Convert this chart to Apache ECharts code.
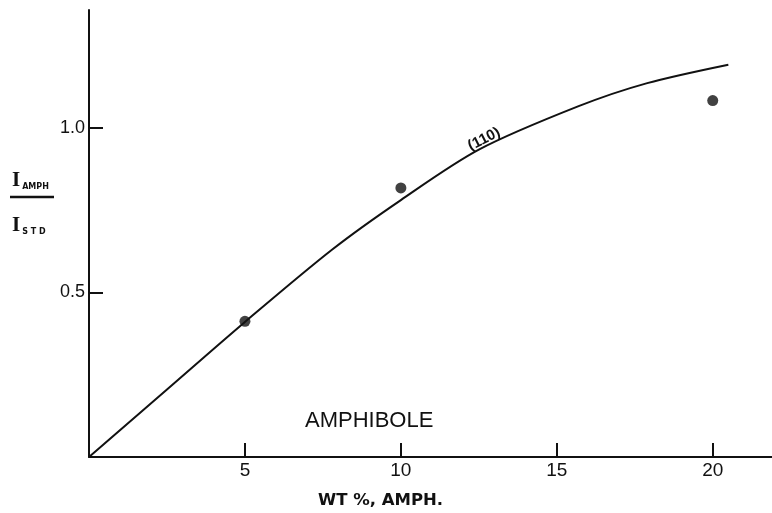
<!DOCTYPE html>
<html><head><meta charset="utf-8">
<script src="https://cdn.jsdelivr.net/npm/echarts@6/dist/echarts.min.js"></script>
<style>html,body{margin:0;padding:0;background:#fff}#c{width:772px;height:513px}</style>
</head><body><div id="c"></div>
<script>
// Fitted curve (110)
const curveX = [0, 2.5, 5, 7.8, 10, 12.5, 15.7, 17.9, 20.5];
const curveY = [0, 0.205, 0.41, 0.63, 0.78, 0.933, 1.065, 1.135, 1.191];
// Measured points
const pointX = [5, 10, 20];
const pointY = [0.412, 0.817, 1.082];
const xTicks = [5, 10, 15, 20];
const yTicks = [0.5, 1.0];
const yTickLabels = ['0.5', '1.0'];

const ink = '#111';
const font = '"Liberation Sans", "DejaVu Sans", sans-serif';
const wide = '"DejaVu Sans", sans-serif';
const serif = '"Liberation Serif", "DejaVu Serif", serif';
const chart = echarts.init(document.getElementById('c'), null, {renderer: 'canvas'});
chart.setOption({
  backgroundColor: '#fff',
  animation: false,
  grid: {left: 89, right: 0, top: 10, bottom: 56, containLabel: false, outerBoundsMode: 'none'},
  xAxis: {
    type: 'value', min: 0, max: 21.9, interval: 5,
    name: 'WT %, AMPH.', nameLocation: 'middle', nameGap: 35,
    nameTextStyle: {color: ink, fontSize: 16.5, fontFamily: wide, fontWeight: 'bold', padding: [0, 100, 0, 0]},
    splitLine: {show: false},
    axisLine: {lineStyle: {color: ink, width: 2}},
    axisTick: {inside: true, length: 14, lineStyle: {color: ink, width: 2}, customValues: xTicks},
    axisLabel: {color: ink, fontSize: 19, fontFamily: font, margin: 4, customValues: xTicks}
  },
  yAxis: {
    type: 'value', min: 0, max: 1.357, interval: 0.5,
    splitLine: {show: false},
    axisLine: {lineStyle: {color: ink, width: 2}},
    axisTick: {inside: true, length: 14, lineStyle: {color: ink, width: 2}, customValues: yTicks},
    axisLabel: {color: ink, fontSize: 18, fontFamily: font, margin: 4, customValues: yTicks,
      formatter: v => { const i = yTicks.findIndex(t => Math.abs(t - v) < 1e-6); return i >= 0 ? yTickLabels[i] : ''; }}
  },
  series: [
    {
      type: 'line', smooth: 0.3, showSymbol: false, symbol: 'none',
      data: curveX.map((x, i) => [x, curveY[i]]),
      lineStyle: {color: ink, width: 2},
      markPoint: {
        symbol: 'circle', symbolSize: 0,
        data: [{coord: [12.8, 0.94]}],
        label: {show: true, formatter: '(110)', rotate: 27, color: ink, fontSize: 15, fontFamily: font, fontWeight: 'bold', offset: [0, -9]}
      }
    },
    {
      type: 'scatter', symbol: 'circle', symbolSize: 11,
      data: pointX.map((x, i) => [x, pointY[i]]),
      itemStyle: {color: ink}
    }
  ],
  graphic: [
    {type: 'text', left: 305, top: 410, style: {text: 'AMPHIBOLE', fill: ink, font: '22px ' + font}},
    {type: 'text', left: 12, top: 170, style: {
      text: '{i|I}{s|AMPH}', fill: ink,
      rich: {i: {fontSize: 21, fontFamily: serif, fontWeight: 'bold', fill: ink}, s: {fontSize: 8, fontFamily: wide, fontWeight: 'bold', fill: ink, verticalAlign: 'bottom', padding: [9, 0, 0, 2]}}
    }},
    {type: 'line', shape: {x1: 10, y1: 197, x2: 54, y2: 197}, style: {stroke: ink, lineWidth: 2.5}},
    {type: 'text', left: 12, top: 215, style: {
      text: '{i|I}{s|S T D}', fill: ink,
      rich: {i: {fontSize: 21, fontFamily: serif, fontWeight: 'bold', fill: ink}, s: {fontSize: 8, fontFamily: wide, fontWeight: 'bold', fill: ink, verticalAlign: 'bottom', padding: [9, 0, 0, 2]}}
    }}
  ]
});
</script></body></html>
